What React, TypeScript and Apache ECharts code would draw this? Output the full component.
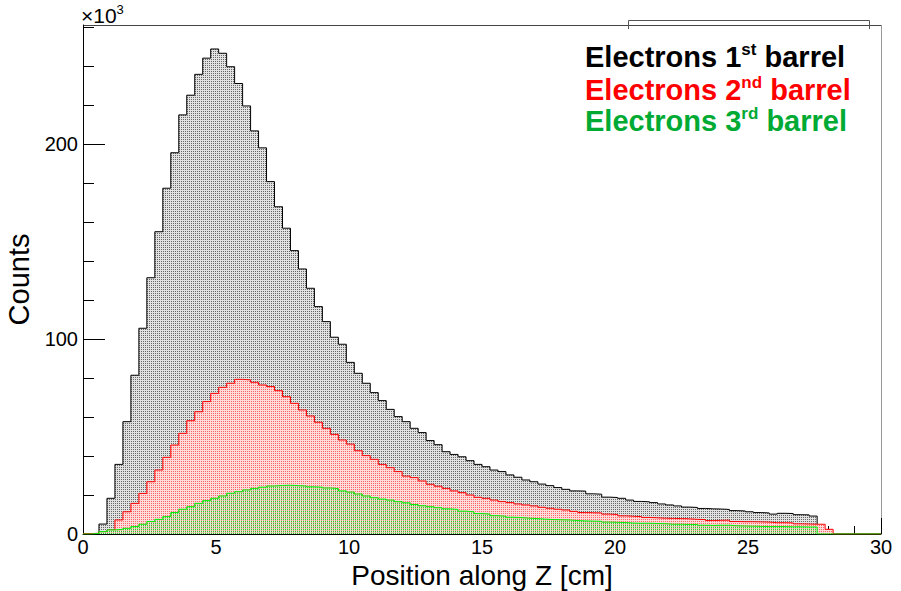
import React, { useEffect, useRef } from "react";
import * as echarts from "echarts";

// Histogram binning along Z (cm): 100 bins of 0.3 cm between 0 and 30
const X_MIN = 0;
const X_MAX = 30;
const BIN_WIDTH = 0.3;
const Y_MAX = 261; // counts in units of 10^3

// Counts per bin (×10^3), electrons reaching the 1st barrel
const electrons1st = [
  0, 0, 5.1, 18.3, 35.7, 57.6, 81.4, 105.5, 131.4, 155.0,
  177.3, 195.5, 214.9, 225.0, 235.7, 244.0, 248.7, 246.5, 239.6, 231.0,
  219.5, 206.7, 198.0, 180.7, 167.8, 156.8, 145.3, 135.9, 126.0, 116.6,
  108.9, 100.9, 97.3, 88.0, 82.4, 77.3, 72.5, 68.4, 63.9, 60.2,
  57.6, 54.2, 52.0, 47.9, 45.8, 42.2, 40.8, 39.6, 37.6, 35.7,
  34.5, 32.8, 32.0, 30.3, 29.1, 27.7, 26.8, 25.6, 24.8, 23.8,
  22.9, 22.1, 22.0, 20.6, 20.4, 18.9, 18.7, 18.3, 17.4, 16.7,
  16.5, 16.1, 15.4, 14.9, 14.4, 13.8, 13.6, 13.1, 12.9, 12.8,
  12.6, 12.0, 11.8, 11.4, 11.0, 10.8, 10.2, 10.6, 10.5, 9.9,
  9.8, 9.2, 2.0, 0, 0, 0, 0, 0, 0, 0,
];

// Counts per bin (×10^3), 2nd barrel
const electrons2nd = [
  0.2, 0.4, 1.0, 2.0, 7.2, 11.4, 15.7, 20.8, 26.8, 32.8,
  39.3, 45.6, 51.6, 58.1, 62.7, 67.9, 72.1, 75.2, 77.3, 79.3,
  79.0, 77.8, 76.4, 75.6, 73.5, 70.4, 67.0, 63.6, 60.5, 57.3,
  54.2, 51.1, 48.2, 46.1, 42.7, 40.2, 38.3, 35.7, 34.0, 32.0,
  29.7, 28.9, 27.2, 25.5, 24.5, 23.4, 22.1, 21.2, 20.0, 18.8,
  18.3, 17.4, 16.6, 16.1, 15.4, 14.9, 14.4, 13.7, 13.2, 12.7,
  12.3, 11.6, 11.0, 10.9, 10.8, 10.2, 10.0, 9.3, 9.1, 8.9,
  8.5, 8.3, 8.1, 8.0, 7.9, 7.8, 7.5, 7.4, 6.9, 7.0,
  7.1, 6.4, 6.3, 6.3, 6.2, 6.1, 5.8, 5.8, 5.7, 5.2,
  5.1, 5.0, 5.0, 2.4, 0, 0, 0, 0, 0, 0,
];

// Counts per bin (×10^3), 3rd barrel
const electrons3rd = [
  0, 0.3, 1.2, 2.1, 2.4, 2.9, 3.8, 5.0, 6.4, 7.5,
  8.9, 11.0, 12.7, 14.0, 15.7, 17.1, 18.3, 19.5, 20.9, 21.7,
  22.6, 23.4, 24.0, 24.6, 24.9, 25.0, 24.8, 24.6, 24.2, 24.0,
  23.6, 23.3, 22.1, 21.5, 20.5, 19.5, 18.6, 17.9, 17.4, 16.6,
  16.0, 15.1, 14.5, 14.0, 13.5, 12.9, 12.6, 11.7, 11.4, 10.5,
  10.2, 9.4, 9.1, 8.6, 8.4, 8.1, 7.9, 7.6, 7.4, 7.3,
  7.2, 6.9, 6.7, 6.6, 6.5, 6.1, 6.0, 5.9, 5.6, 5.5,
  5.5, 5.4, 5.3, 5.0, 5.0, 4.9, 4.9, 4.5, 4.4, 4.5,
  4.5, 4.2, 4.1, 4.0, 3.9, 3.8, 3.8, 3.8, 3.7, 3.7,
  3.6, 3.6, 0, 0, 0, 0, 0, 0, 0, 0,
];

const xMajorTicks = [0, 5, 10, 15, 20, 25, 30];
const yMajorTicks = [0, 100, 200];
const yMinorTicks = [0, 20, 40, 60, 80, 100, 120, 140, 160, 180, 200, 220, 240, 260];

const FONT = '"Liberation Sans", Arial, Helvetica, sans-serif';

// Step outline: each bin's left edge carries its value, closed at the upper edge.
function toSteps(values: number[]) {
  const pts: [number, number][] = values.map((v, i) => [
    +(X_MIN + i * BIN_WIDTH).toFixed(4),
    v,
  ]);
  pts.push([X_MAX, values[values.length - 1]]);
  return pts;
}

// Stippled fill on a 2x2 tile (native SVG pattern): tinted ground plus single-pixel dots
function dotPattern(id: string, ground: string, dots: [number, number, string][]) {
  const children: any[] = [
    {
      tag: "rect",
      key: id + "-bg",
      attrs: { x: 0, y: 0, width: 2, height: 2, fill: ground },
      children: [],
      text: "",
    },
  ];
  dots.forEach(([x, y, color], i) => {
    children.push({
      tag: "rect",
      key: id + "-d" + i,
      attrs: { x, y, width: 1, height: 1, fill: color },
      children: [],
      text: "",
    });
  });
  return {
    svgElement: { tag: "g", key: id, attrs: { "shape-rendering": "crispEdges" }, children, text: "" },
    svgWidth: 2,
    svgHeight: 2,
    repeat: "repeat",
  } as any;
}

function legendLine(color: string, num: string, sup: string) {
  return {
    text: `{b|Electrons ${num}}{s|${sup}}{b| barrel}`,
    rich: {
      b: { fontSize: 29, fontWeight: "bold", fontFamily: FONT, fill: color, lineHeight: 32 },
      s: {
        fontSize: 17,
        fontWeight: "bold",
        fontFamily: FONT,
        fill: color,
        lineHeight: 18,
        verticalAlign: "top",
      },
    },
  };
}

export default function App() {
  const ref = useRef<HTMLDivElement>(null);

  useEffect(() => {
    if (!ref.current) return;
    const chart = echarts.init(ref.current, null, { renderer: "svg" });

    const histo = (name: string, values: number[], lineColor: string, fill: any, z: number) => ({
      name,
      type: "line",
      step: "end",
      data: toSteps(values),
      symbol: "none",
      silent: true,
      z,
      lineStyle: { color: lineColor, width: 1 },
      areaStyle: { color: fill, opacity: 1 },
    });

    const option: any = {
      animation: false,
      backgroundColor: "#ffffff",
      grid: { left: 83, right: 20, top: 25, bottom: 57, outerBoundsMode: "none" },
      xAxis: {
        type: "value",
        min: X_MIN,
        max: X_MAX,
        interval: 5,
        axisLine: { show: true, onZero: false, lineStyle: { color: "#000", width: 1 } },
        axisTick: {
          show: true,
          inside: true,
          length: 16,
          customValues: xMajorTicks,
          lineStyle: { color: "#000" },
        },
        minorTick: { show: true, splitNumber: 5, length: 8, lineStyle: { color: "#000" } },
        axisLabel: { fontSize: 20, color: "#000", fontFamily: FONT, margin: 3 },
        splitLine: { show: false },
        name: "Position along Z [cm]",
        nameLocation: "middle",
        nameGap: 17,
        nameTextStyle: { fontSize: 28, color: "#000", fontFamily: FONT, verticalAlign: "top" },
      },
      yAxis: [
        {
          type: "value",
          min: 0,
          max: Y_MAX,
          position: "left",
          axisLine: { show: true, lineStyle: { color: "#000", width: 1 } },
          axisTick: {
            show: true,
            inside: true,
            length: 22,
            customValues: yMajorTicks,
            lineStyle: { color: "#000" },
          },
          axisLabel: {
            customValues: yMajorTicks,
            fontSize: 20,
            color: "#000",
            fontFamily: FONT,
            margin: 5,
          },
          splitLine: { show: false },
          name: "Counts",
          nameLocation: "middle",
          nameGap: 22,
          nameTextStyle: { fontSize: 29, color: "#000", fontFamily: FONT },
        },
        {
          type: "value",
          min: 0,
          max: Y_MAX,
          position: "left",
          offset: 0,
          axisLine: { show: false },
          axisTick: {
            show: true,
            inside: true,
            length: 11,
            customValues: yMinorTicks,
            lineStyle: { color: "#000" },
          },
          axisLabel: { show: false },
          splitLine: { show: false },
        },
      ],
      series: [
        histo(
          "Electrons 1st barrel",
          electrons1st,
          "#000000",
          dotPattern("hatch-1st", "#e2e2e2", [[1, 1, "#666666"]]),
          2
        ),
        histo(
          "Electrons 2nd barrel",
          electrons2nd,
          "#ff0000",
          dotPattern("hatch-2nd", "#ffdcdc", [[1, 1, "#ff6464"]]),
          3
        ),
        histo(
          "Electrons 3rd barrel",
          electrons3rd,
          "#00ee00",
          dotPattern("hatch-3rd", "#dcefcc", [
            [1, 1, "#30c830"],
            [1, 0, "#ff9a9a"],
          ]),
          4
        ),
      ],
      graphic: [
        // upper and right edges of the frame
        {
          type: "line",
          silent: true,
          shape: { x1: 83, y1: 25.5, x2: 881, y2: 25.5 },
          style: { stroke: "#444", lineWidth: 1 },
        },
        {
          type: "line",
          silent: true,
          shape: { x1: 881.5, y1: 25, x2: 881.5, y2: 534 },
          style: { stroke: "#999", lineWidth: 1 },
        },
        // top edge of the statistics box
        {
          type: "polyline",
          silent: true,
          shape: { points: [[628.5, 29], [628.5, 20.5], [869.5, 20.5], [869.5, 29]] },
          style: { stroke: "#555", lineWidth: 1, fill: "none" },
        },
        // axis multiplier
        {
          type: "text",
          x: 81,
          y: 3,
          silent: true,
          style: {
            text: "{b|×10}{s|3}",
            rich: {
              b: { fontSize: 21, fontFamily: FONT, fill: "#000", lineHeight: 24 },
              s: { fontSize: 13, fontFamily: FONT, fill: "#000", lineHeight: 13, verticalAlign: "top" },
            },
          },
        },
        { type: "text", x: 585, y: 41, silent: true, style: legendLine("#000000", "1", "st") },
        { type: "text", x: 585, y: 74, silent: true, style: legendLine("#ff0000", "2", "nd") },
        { type: "text", x: 585, y: 105, silent: true, style: legendLine("#00aa33", "3", "rd") },
      ],
    };

    chart.setOption(option);
    return () => chart.dispose();
  }, []);

  return (
    <div
      ref={ref}
      style={{ position: "absolute", left: 0, top: 0, width: 901, height: 591, background: "#fff" }}
    />
  );
}
